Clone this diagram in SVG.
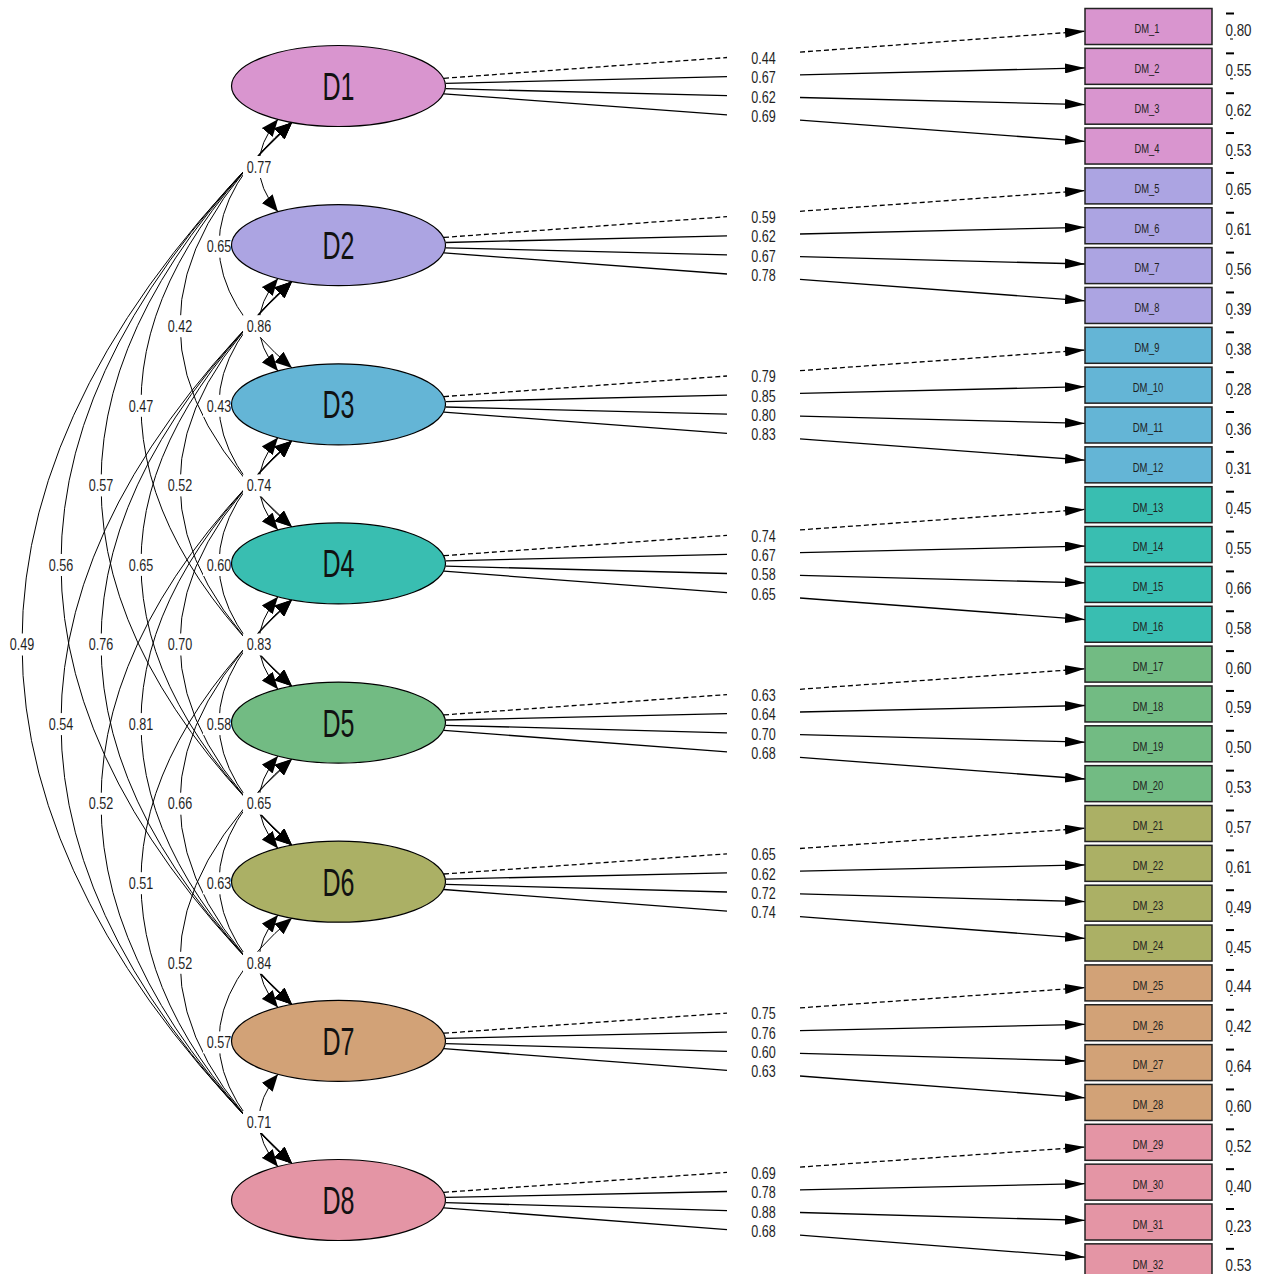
<svg xmlns="http://www.w3.org/2000/svg" width="1262" height="1274" viewBox="0 0 1262 1274">
<style>
.cov{fill:none;stroke:#000;stroke-width:1;marker-start:url(#ca);marker-end:url(#ca)}
.ld{fill:none;stroke:#000;stroke-width:1.3}
.arr{marker-end:url(#la)}
.dash{stroke-dasharray:5 3}
.bg{fill:#fff}
.lab{font-family:"Liberation Sans",Arial,sans-serif;font-size:16px;fill:#1f1f1f;text-anchor:middle}
.lat ellipse{stroke:#000;stroke-width:1.2}
.lat text{font-family:"Liberation Sans",Arial,sans-serif;font-size:38px;fill:#111;text-anchor:middle}
.obs rect{stroke:#222;stroke-width:1.5}
.obs text{font-family:"Liberation Sans",Arial,sans-serif;font-size:13px;fill:#1f1f1f;text-anchor:middle}
.obs text.res{font-size:16.5px}
.obs path{stroke:#000;fill:none}
.f1{fill:#D995CF}.f2{fill:#ACA4E2}.f3{fill:#64B5D6}.f4{fill:#39BEB1}.f5{fill:#72BB83}.f6{fill:#ABB065}.f7{fill:#D2A277}.f8{fill:#E495A5}
</style>
<defs>
<marker id="ca" markerUnits="userSpaceOnUse" markerWidth="17" markerHeight="14" refX="17" refY="7" orient="auto-start-reverse"><path d="M0,0 L17,7 L0,14 z" fill="#000"/></marker>
<marker id="la" markerUnits="userSpaceOnUse" markerWidth="20" markerHeight="10" refX="20" refY="5" orient="auto"><path d="M0,0 L20,5 L0,10 z" fill="#000"/></marker>
</defs>
<rect width="1262" height="1274" fill="#fff"/>
<g id="connectors">
<g id="covariances">
<path class="cov" d="M278,119.3 Q240,165.55 278,211.8"/>
<path class="cov" d="M278,278.4 Q240,324.7 278,371"/>
<path class="cov" d="M278,437.6 Q240,483.85 278,530.1"/>
<path class="cov" d="M278,596.7 Q240,643 278,689.3"/>
<path class="cov" d="M278,755.9 Q240,802.15 278,848.4"/>
<path class="cov" d="M278,915 Q240,961.3 278,1007.6"/>
<path class="cov" d="M278,1074.2 Q240,1120.45 278,1166.7"/>
<path class="cov" d="M292,122.4 Q146,245.15 292,367.9"/>
<path class="cov" d="M292,281.5 Q146,404.25 292,527"/>
<path class="cov" d="M292,440.7 Q146,563.45 292,686.2"/>
<path class="cov" d="M292,599.8 Q146,722.55 292,845.3"/>
<path class="cov" d="M292,759 Q146,881.75 292,1004.5"/>
<path class="cov" d="M292,918.1 Q146,1040.85 292,1163.6"/>
<path class="cov" d="M292,122.4 Q68,324.7 292,527"/>
<path class="cov" d="M292,281.5 Q68,483.85 292,686.2"/>
<path class="cov" d="M292,440.7 Q68,643 292,845.3"/>
<path class="cov" d="M292,599.8 Q68,802.15 292,1004.5"/>
<path class="cov" d="M292,759 Q68,961.3 292,1163.6"/>
<path class="cov" d="M292,122.4 Q-10,404.3 292,686.2"/>
<path class="cov" d="M292,281.5 Q-10,563.4 292,845.3"/>
<path class="cov" d="M292,440.7 Q-10,722.6 292,1004.5"/>
<path class="cov" d="M292,599.8 Q-10,881.7 292,1163.6"/>
<path class="cov" d="M292,122.4 Q-90,483.85 292,845.3"/>
<path class="cov" d="M292,281.5 Q-90,643 292,1004.5"/>
<path class="cov" d="M292,440.7 Q-90,802.15 292,1163.6"/>
<path class="cov" d="M292,122.4 Q-170,563.45 292,1004.5"/>
<path class="cov" d="M292,281.5 Q-170,722.55 292,1163.6"/>
<path class="cov" d="M292,122.4 Q-248,643 292,1163.6"/>
</g>
<g id="cov-label-bg">
<rect class="bg" x="243" y="156" width="32" height="22"/>
<rect class="bg" x="243" y="315.2" width="32" height="22"/>
<rect class="bg" x="243" y="474.4" width="32" height="22"/>
<rect class="bg" x="243" y="633.5" width="32" height="22"/>
<rect class="bg" x="243" y="792.7" width="32" height="22"/>
<rect class="bg" x="243" y="951.8" width="32" height="22"/>
<rect class="bg" x="243" y="1111" width="32" height="22"/>
<rect class="bg" x="203" y="235.7" width="32" height="22"/>
<rect class="bg" x="203" y="394.8" width="32" height="22"/>
<rect class="bg" x="203" y="554" width="32" height="22"/>
<rect class="bg" x="203" y="713.1" width="32" height="22"/>
<rect class="bg" x="203" y="872.3" width="32" height="22"/>
<rect class="bg" x="203" y="1031.4" width="32" height="22"/>
<rect class="bg" x="164" y="315.2" width="32" height="22"/>
<rect class="bg" x="164" y="474.4" width="32" height="22"/>
<rect class="bg" x="164" y="633.5" width="32" height="22"/>
<rect class="bg" x="164" y="792.7" width="32" height="22"/>
<rect class="bg" x="164" y="951.8" width="32" height="22"/>
<rect class="bg" x="125" y="394.8" width="32" height="22"/>
<rect class="bg" x="125" y="553.9" width="32" height="22"/>
<rect class="bg" x="125" y="713.1" width="32" height="22"/>
<rect class="bg" x="125" y="872.2" width="32" height="22"/>
<rect class="bg" x="85" y="474.4" width="32" height="22"/>
<rect class="bg" x="85" y="633.5" width="32" height="22"/>
<rect class="bg" x="85" y="792.7" width="32" height="22"/>
<rect class="bg" x="45" y="554" width="32" height="22"/>
<rect class="bg" x="45" y="713.1" width="32" height="22"/>
<rect class="bg" x="6" y="633.5" width="32" height="22"/>
</g>
<g id="loadings">
<path class="ld dash" d="M444,78.3 L727,57.5"/><path class="ld dash arr" d="M800,52.1 L1085,31.2"/>
<path class="ld" d="M445.8,83.4 L727,76.6"/><path class="ld arr" d="M800,74.8 L1085,67.9"/>
<path class="ld" d="M445.8,88.7 L727,95.7"/><path class="ld arr" d="M800,97.5 L1085,104.6"/>
<path class="ld" d="M444,93.8 L727,114.8"/><path class="ld arr" d="M800,120.2 L1085,141.4"/>
<path class="ld dash" d="M444,237.4 L727,216.7"/><path class="ld dash arr" d="M800,211.3 L1085,190.6"/>
<path class="ld" d="M445.8,242.5 L727,235.8"/><path class="ld arr" d="M800,234 L1085,227.3"/>
<path class="ld" d="M445.8,247.8 L727,254.9"/><path class="ld arr" d="M800,256.7 L1085,264"/>
<path class="ld" d="M444,252.9 L727,274"/><path class="ld arr" d="M800,279.4 L1085,300.8"/>
<path class="ld dash" d="M444,396.6 L727,376"/><path class="ld dash arr" d="M800,370.7 L1085,350"/>
<path class="ld" d="M445.8,401.7 L727,395.1"/><path class="ld arr" d="M800,393.4 L1085,386.7"/>
<path class="ld" d="M445.8,407 L727,414.2"/><path class="ld arr" d="M800,416.1 L1085,423.4"/>
<path class="ld" d="M444,412.1 L727,433.3"/><path class="ld arr" d="M800,438.8 L1085,460.2"/>
<path class="ld dash" d="M444,555.7 L727,535.3"/><path class="ld dash arr" d="M800,529.9 L1085,509.4"/>
<path class="ld" d="M445.8,560.8 L727,554.4"/><path class="ld arr" d="M800,552.6 L1085,546.1"/>
<path class="ld" d="M445.8,566.1 L727,573.5"/><path class="ld arr" d="M800,575.3 L1085,582.8"/>
<path class="ld" d="M444,571.2 L727,592.6"/><path class="ld arr" d="M800,598 L1085,619.6"/>
<path class="ld dash" d="M444,714.9 L727,694.6"/><path class="ld dash arr" d="M800,689.3 L1085,668.8"/>
<path class="ld" d="M445.8,720 L727,713.7"/><path class="ld arr" d="M800,712 L1085,705.5"/>
<path class="ld" d="M445.8,725.3 L727,732.8"/><path class="ld arr" d="M800,734.7 L1085,742.2"/>
<path class="ld" d="M444,730.4 L727,751.9"/><path class="ld arr" d="M800,757.4 L1085,779"/>
<path class="ld dash" d="M444,874 L727,853.8"/><path class="ld dash arr" d="M800,848.5 L1085,828.2"/>
<path class="ld" d="M445.8,879.1 L727,872.9"/><path class="ld arr" d="M800,871.2 L1085,864.9"/>
<path class="ld" d="M445.8,884.4 L727,892"/><path class="ld arr" d="M800,893.9 L1085,901.6"/>
<path class="ld" d="M444,889.5 L727,911.1"/><path class="ld arr" d="M800,916.6 L1085,938.4"/>
<path class="ld dash" d="M444,1033.2 L727,1013.1"/><path class="ld dash arr" d="M800,1007.9 L1085,987.6"/>
<path class="ld" d="M445.8,1038.3 L727,1032.2"/><path class="ld arr" d="M800,1030.6 L1085,1024.3"/>
<path class="ld" d="M445.8,1043.6 L727,1051.3"/><path class="ld arr" d="M800,1053.3 L1085,1061"/>
<path class="ld" d="M444,1048.7 L727,1070.4"/><path class="ld arr" d="M800,1076 L1085,1097.8"/>
<path class="ld dash" d="M444,1192.3 L727,1172.4"/><path class="ld dash arr" d="M800,1167.1 L1085,1147"/>
<path class="ld" d="M445.8,1197.4 L727,1191.5"/><path class="ld arr" d="M800,1189.8 L1085,1183.7"/>
<path class="ld" d="M445.8,1202.7 L727,1210.6"/><path class="ld arr" d="M800,1212.5 L1085,1220.4"/>
<path class="ld" d="M444,1207.8 L727,1229.7"/><path class="ld arr" d="M800,1235.2 L1085,1257.2"/>
</g>
</g>
<g id="D1" class="lat"><ellipse class="f1" cx="338.5" cy="86" rx="107" ry="40.5"/><text x="338.5" y="100" textLength="32" lengthAdjust="spacingAndGlyphs">D1</text></g>
<g id="D2" class="lat"><ellipse class="f2" cx="338.5" cy="245.1" rx="107" ry="40.5"/><text x="338.5" y="259.1" textLength="32" lengthAdjust="spacingAndGlyphs">D2</text></g>
<g id="D3" class="lat"><ellipse class="f3" cx="338.5" cy="404.3" rx="107" ry="40.5"/><text x="338.5" y="418.3" textLength="32" lengthAdjust="spacingAndGlyphs">D3</text></g>
<g id="D4" class="lat"><ellipse class="f4" cx="338.5" cy="563.4" rx="107" ry="40.5"/><text x="338.5" y="577.4" textLength="32" lengthAdjust="spacingAndGlyphs">D4</text></g>
<g id="D5" class="lat"><ellipse class="f5" cx="338.5" cy="722.6" rx="107" ry="40.5"/><text x="338.5" y="736.6" textLength="32" lengthAdjust="spacingAndGlyphs">D5</text></g>
<g id="D6" class="lat"><ellipse class="f6" cx="338.5" cy="881.7" rx="107" ry="40.5"/><text x="338.5" y="895.7" textLength="32" lengthAdjust="spacingAndGlyphs">D6</text></g>
<g id="D7" class="lat"><ellipse class="f7" cx="338.5" cy="1040.9" rx="107" ry="40.5"/><text x="338.5" y="1054.9" textLength="32" lengthAdjust="spacingAndGlyphs">D7</text></g>
<g id="D8" class="lat"><ellipse class="f8" cx="338.5" cy="1200" rx="107" ry="40.5"/><text x="338.5" y="1214" textLength="32" lengthAdjust="spacingAndGlyphs">D8</text></g>
<g id="cov-labels" class="lab">
<text class="lab" x="259" y="172.8" textLength="24.5" lengthAdjust="spacingAndGlyphs">0.77</text>
<text class="lab" x="259" y="331.9" textLength="24.5" lengthAdjust="spacingAndGlyphs">0.86</text>
<text class="lab" x="259" y="491.1" textLength="24.5" lengthAdjust="spacingAndGlyphs">0.74</text>
<text class="lab" x="259" y="650.2" textLength="24.5" lengthAdjust="spacingAndGlyphs">0.83</text>
<text class="lab" x="259" y="809.4" textLength="24.5" lengthAdjust="spacingAndGlyphs">0.65</text>
<text class="lab" x="259" y="968.5" textLength="24.5" lengthAdjust="spacingAndGlyphs">0.84</text>
<text class="lab" x="259" y="1127.7" textLength="24.5" lengthAdjust="spacingAndGlyphs">0.71</text>
<text class="lab" x="219" y="252.4" textLength="24.5" lengthAdjust="spacingAndGlyphs">0.65</text>
<text class="lab" x="219" y="411.5" textLength="24.5" lengthAdjust="spacingAndGlyphs">0.43</text>
<text class="lab" x="219" y="570.7" textLength="24.5" lengthAdjust="spacingAndGlyphs">0.60</text>
<text class="lab" x="219" y="729.8" textLength="24.5" lengthAdjust="spacingAndGlyphs">0.58</text>
<text class="lab" x="219" y="889" textLength="24.5" lengthAdjust="spacingAndGlyphs">0.63</text>
<text class="lab" x="219" y="1048.1" textLength="24.5" lengthAdjust="spacingAndGlyphs">0.57</text>
<text class="lab" x="180" y="331.9" textLength="24.5" lengthAdjust="spacingAndGlyphs">0.42</text>
<text class="lab" x="180" y="491.1" textLength="24.5" lengthAdjust="spacingAndGlyphs">0.52</text>
<text class="lab" x="180" y="650.2" textLength="24.5" lengthAdjust="spacingAndGlyphs">0.70</text>
<text class="lab" x="180" y="809.4" textLength="24.5" lengthAdjust="spacingAndGlyphs">0.66</text>
<text class="lab" x="180" y="968.5" textLength="24.5" lengthAdjust="spacingAndGlyphs">0.52</text>
<text class="lab" x="141" y="411.5" textLength="24.5" lengthAdjust="spacingAndGlyphs">0.47</text>
<text class="lab" x="141" y="570.6" textLength="24.5" lengthAdjust="spacingAndGlyphs">0.65</text>
<text class="lab" x="141" y="729.8" textLength="24.5" lengthAdjust="spacingAndGlyphs">0.81</text>
<text class="lab" x="141" y="888.9" textLength="24.5" lengthAdjust="spacingAndGlyphs">0.51</text>
<text class="lab" x="101" y="491.1" textLength="24.5" lengthAdjust="spacingAndGlyphs">0.57</text>
<text class="lab" x="101" y="650.2" textLength="24.5" lengthAdjust="spacingAndGlyphs">0.76</text>
<text class="lab" x="101" y="809.4" textLength="24.5" lengthAdjust="spacingAndGlyphs">0.52</text>
<text class="lab" x="61" y="570.7" textLength="24.5" lengthAdjust="spacingAndGlyphs">0.56</text>
<text class="lab" x="61" y="729.8" textLength="24.5" lengthAdjust="spacingAndGlyphs">0.54</text>
<text class="lab" x="22" y="650.2" textLength="24.5" lengthAdjust="spacingAndGlyphs">0.49</text>
</g>
<g id="loading-labels">
<text class="lab" x="763.5" y="63.8" textLength="24.5" lengthAdjust="spacingAndGlyphs">0.44</text>
<text class="lab" x="763.5" y="83.2" textLength="24.5" lengthAdjust="spacingAndGlyphs">0.67</text>
<text class="lab" x="763.5" y="102.6" textLength="24.5" lengthAdjust="spacingAndGlyphs">0.62</text>
<text class="lab" x="763.5" y="121.8" textLength="24.5" lengthAdjust="spacingAndGlyphs">0.69</text>
<text class="lab" x="763.5" y="223" textLength="24.5" lengthAdjust="spacingAndGlyphs">0.59</text>
<text class="lab" x="763.5" y="242.4" textLength="24.5" lengthAdjust="spacingAndGlyphs">0.62</text>
<text class="lab" x="763.5" y="261.8" textLength="24.5" lengthAdjust="spacingAndGlyphs">0.67</text>
<text class="lab" x="763.5" y="281" textLength="24.5" lengthAdjust="spacingAndGlyphs">0.78</text>
<text class="lab" x="763.5" y="382.3" textLength="24.5" lengthAdjust="spacingAndGlyphs">0.79</text>
<text class="lab" x="763.5" y="401.7" textLength="24.5" lengthAdjust="spacingAndGlyphs">0.85</text>
<text class="lab" x="763.5" y="421.1" textLength="24.5" lengthAdjust="spacingAndGlyphs">0.80</text>
<text class="lab" x="763.5" y="440.3" textLength="24.5" lengthAdjust="spacingAndGlyphs">0.83</text>
<text class="lab" x="763.5" y="541.6" textLength="24.5" lengthAdjust="spacingAndGlyphs">0.74</text>
<text class="lab" x="763.5" y="561" textLength="24.5" lengthAdjust="spacingAndGlyphs">0.67</text>
<text class="lab" x="763.5" y="580.4" textLength="24.5" lengthAdjust="spacingAndGlyphs">0.58</text>
<text class="lab" x="763.5" y="599.6" textLength="24.5" lengthAdjust="spacingAndGlyphs">0.65</text>
<text class="lab" x="763.5" y="700.9" textLength="24.5" lengthAdjust="spacingAndGlyphs">0.63</text>
<text class="lab" x="763.5" y="720.3" textLength="24.5" lengthAdjust="spacingAndGlyphs">0.64</text>
<text class="lab" x="763.5" y="739.7" textLength="24.5" lengthAdjust="spacingAndGlyphs">0.70</text>
<text class="lab" x="763.5" y="758.9" textLength="24.5" lengthAdjust="spacingAndGlyphs">0.68</text>
<text class="lab" x="763.5" y="860.1" textLength="24.5" lengthAdjust="spacingAndGlyphs">0.65</text>
<text class="lab" x="763.5" y="879.5" textLength="24.5" lengthAdjust="spacingAndGlyphs">0.62</text>
<text class="lab" x="763.5" y="898.9" textLength="24.5" lengthAdjust="spacingAndGlyphs">0.72</text>
<text class="lab" x="763.5" y="918.1" textLength="24.5" lengthAdjust="spacingAndGlyphs">0.74</text>
<text class="lab" x="763.5" y="1019.4" textLength="24.5" lengthAdjust="spacingAndGlyphs">0.75</text>
<text class="lab" x="763.5" y="1038.8" textLength="24.5" lengthAdjust="spacingAndGlyphs">0.76</text>
<text class="lab" x="763.5" y="1058.2" textLength="24.5" lengthAdjust="spacingAndGlyphs">0.60</text>
<text class="lab" x="763.5" y="1077.4" textLength="24.5" lengthAdjust="spacingAndGlyphs">0.63</text>
<text class="lab" x="763.5" y="1178.7" textLength="24.5" lengthAdjust="spacingAndGlyphs">0.69</text>
<text class="lab" x="763.5" y="1198.1" textLength="24.5" lengthAdjust="spacingAndGlyphs">0.78</text>
<text class="lab" x="763.5" y="1217.5" textLength="24.5" lengthAdjust="spacingAndGlyphs">0.88</text>
<text class="lab" x="763.5" y="1236.7" textLength="24.5" lengthAdjust="spacingAndGlyphs">0.68</text>
</g>
<g id="DM_1" class="obs"><rect class="f1" x="1085" y="8.5" width="127" height="36"/><text x="1147" y="33.3" textLength="25" lengthAdjust="spacingAndGlyphs">DM_1</text><path d="M1226,13.5h8" stroke-width="2"/><path d="M1230,39h3"/><text class="res" x="1238.5" y="36" textLength="26" lengthAdjust="spacingAndGlyphs">0.80</text></g>
<g id="DM_2" class="obs"><rect class="f1" x="1085" y="48.35" width="127" height="36"/><text x="1147" y="73.15" textLength="25" lengthAdjust="spacingAndGlyphs">DM_2</text><path d="M1226,53.35h8" stroke-width="2"/><path d="M1230,78.85h3"/><text class="res" x="1238.5" y="75.85" textLength="26" lengthAdjust="spacingAndGlyphs">0.55</text></g>
<g id="DM_3" class="obs"><rect class="f1" x="1085" y="88.2" width="127" height="36"/><text x="1147" y="113" textLength="25" lengthAdjust="spacingAndGlyphs">DM_3</text><path d="M1226,93.2h8" stroke-width="2"/><path d="M1230,118.7h3"/><text class="res" x="1238.5" y="115.7" textLength="26" lengthAdjust="spacingAndGlyphs">0.62</text></g>
<g id="DM_4" class="obs"><rect class="f1" x="1085" y="128.05" width="127" height="36"/><text x="1147" y="152.85" textLength="25" lengthAdjust="spacingAndGlyphs">DM_4</text><path d="M1226,133.05h8" stroke-width="2"/><path d="M1230,158.55h3"/><text class="res" x="1238.5" y="155.55" textLength="26" lengthAdjust="spacingAndGlyphs">0.53</text></g>
<g id="DM_5" class="obs"><rect class="f2" x="1085" y="167.9" width="127" height="36"/><text x="1147" y="192.7" textLength="25" lengthAdjust="spacingAndGlyphs">DM_5</text><path d="M1226,172.9h8" stroke-width="2"/><path d="M1230,198.4h3"/><text class="res" x="1238.5" y="195.4" textLength="26" lengthAdjust="spacingAndGlyphs">0.65</text></g>
<g id="DM_6" class="obs"><rect class="f2" x="1085" y="207.75" width="127" height="36"/><text x="1147" y="232.55" textLength="25" lengthAdjust="spacingAndGlyphs">DM_6</text><path d="M1226,212.75h8" stroke-width="2"/><path d="M1230,238.25h3"/><text class="res" x="1238.5" y="235.25" textLength="26" lengthAdjust="spacingAndGlyphs">0.61</text></g>
<g id="DM_7" class="obs"><rect class="f2" x="1085" y="247.6" width="127" height="36"/><text x="1147" y="272.4" textLength="25" lengthAdjust="spacingAndGlyphs">DM_7</text><path d="M1226,252.6h8" stroke-width="2"/><path d="M1230,278.1h3"/><text class="res" x="1238.5" y="275.1" textLength="26" lengthAdjust="spacingAndGlyphs">0.56</text></g>
<g id="DM_8" class="obs"><rect class="f2" x="1085" y="287.45" width="127" height="36"/><text x="1147" y="312.25" textLength="25" lengthAdjust="spacingAndGlyphs">DM_8</text><path d="M1226,292.45h8" stroke-width="2"/><path d="M1230,317.95h3"/><text class="res" x="1238.5" y="314.95" textLength="26" lengthAdjust="spacingAndGlyphs">0.39</text></g>
<g id="DM_9" class="obs"><rect class="f3" x="1085" y="327.3" width="127" height="36"/><text x="1147" y="352.1" textLength="25" lengthAdjust="spacingAndGlyphs">DM_9</text><path d="M1226,332.3h8" stroke-width="2"/><path d="M1230,357.8h3"/><text class="res" x="1238.5" y="354.8" textLength="26" lengthAdjust="spacingAndGlyphs">0.38</text></g>
<g id="DM_10" class="obs"><rect class="f3" x="1085" y="367.15" width="127" height="36"/><text x="1148" y="391.95" textLength="30.5" lengthAdjust="spacingAndGlyphs">DM_10</text><path d="M1226,372.15h8" stroke-width="2"/><path d="M1230,397.65h3"/><text class="res" x="1238.5" y="394.65" textLength="26" lengthAdjust="spacingAndGlyphs">0.28</text></g>
<g id="DM_11" class="obs"><rect class="f3" x="1085" y="407" width="127" height="36"/><text x="1148" y="431.8" textLength="30.5" lengthAdjust="spacingAndGlyphs">DM_11</text><path d="M1226,412h8" stroke-width="2"/><path d="M1230,437.5h3"/><text class="res" x="1238.5" y="434.5" textLength="26" lengthAdjust="spacingAndGlyphs">0.36</text></g>
<g id="DM_12" class="obs"><rect class="f3" x="1085" y="446.85" width="127" height="36"/><text x="1148" y="471.65" textLength="30.5" lengthAdjust="spacingAndGlyphs">DM_12</text><path d="M1226,451.85h8" stroke-width="2"/><path d="M1230,477.35h3"/><text class="res" x="1238.5" y="474.35" textLength="26" lengthAdjust="spacingAndGlyphs">0.31</text></g>
<g id="DM_13" class="obs"><rect class="f4" x="1085" y="486.7" width="127" height="36"/><text x="1148" y="511.5" textLength="30.5" lengthAdjust="spacingAndGlyphs">DM_13</text><path d="M1226,491.7h8" stroke-width="2"/><path d="M1230,517.2h3"/><text class="res" x="1238.5" y="514.2" textLength="26" lengthAdjust="spacingAndGlyphs">0.45</text></g>
<g id="DM_14" class="obs"><rect class="f4" x="1085" y="526.55" width="127" height="36"/><text x="1148" y="551.35" textLength="30.5" lengthAdjust="spacingAndGlyphs">DM_14</text><path d="M1226,531.55h8" stroke-width="2"/><path d="M1230,557.05h3"/><text class="res" x="1238.5" y="554.05" textLength="26" lengthAdjust="spacingAndGlyphs">0.55</text></g>
<g id="DM_15" class="obs"><rect class="f4" x="1085" y="566.4" width="127" height="36"/><text x="1148" y="591.2" textLength="30.5" lengthAdjust="spacingAndGlyphs">DM_15</text><path d="M1226,571.4h8" stroke-width="2"/><path d="M1230,596.9h3"/><text class="res" x="1238.5" y="593.9" textLength="26" lengthAdjust="spacingAndGlyphs">0.66</text></g>
<g id="DM_16" class="obs"><rect class="f4" x="1085" y="606.25" width="127" height="36"/><text x="1148" y="631.05" textLength="30.5" lengthAdjust="spacingAndGlyphs">DM_16</text><path d="M1226,611.25h8" stroke-width="2"/><path d="M1230,636.75h3"/><text class="res" x="1238.5" y="633.75" textLength="26" lengthAdjust="spacingAndGlyphs">0.58</text></g>
<g id="DM_17" class="obs"><rect class="f5" x="1085" y="646.1" width="127" height="36"/><text x="1148" y="670.9" textLength="30.5" lengthAdjust="spacingAndGlyphs">DM_17</text><path d="M1226,651.1h8" stroke-width="2"/><path d="M1230,676.6h3"/><text class="res" x="1238.5" y="673.6" textLength="26" lengthAdjust="spacingAndGlyphs">0.60</text></g>
<g id="DM_18" class="obs"><rect class="f5" x="1085" y="685.95" width="127" height="36"/><text x="1148" y="710.75" textLength="30.5" lengthAdjust="spacingAndGlyphs">DM_18</text><path d="M1226,690.95h8" stroke-width="2"/><path d="M1230,716.45h3"/><text class="res" x="1238.5" y="713.45" textLength="26" lengthAdjust="spacingAndGlyphs">0.59</text></g>
<g id="DM_19" class="obs"><rect class="f5" x="1085" y="725.8" width="127" height="36"/><text x="1148" y="750.6" textLength="30.5" lengthAdjust="spacingAndGlyphs">DM_19</text><path d="M1226,730.8h8" stroke-width="2"/><path d="M1230,756.3h3"/><text class="res" x="1238.5" y="753.3" textLength="26" lengthAdjust="spacingAndGlyphs">0.50</text></g>
<g id="DM_20" class="obs"><rect class="f5" x="1085" y="765.65" width="127" height="36"/><text x="1148" y="790.45" textLength="30.5" lengthAdjust="spacingAndGlyphs">DM_20</text><path d="M1226,770.65h8" stroke-width="2"/><path d="M1230,796.15h3"/><text class="res" x="1238.5" y="793.15" textLength="26" lengthAdjust="spacingAndGlyphs">0.53</text></g>
<g id="DM_21" class="obs"><rect class="f6" x="1085" y="805.5" width="127" height="36"/><text x="1148" y="830.3" textLength="30.5" lengthAdjust="spacingAndGlyphs">DM_21</text><path d="M1226,810.5h8" stroke-width="2"/><path d="M1230,836h3"/><text class="res" x="1238.5" y="833" textLength="26" lengthAdjust="spacingAndGlyphs">0.57</text></g>
<g id="DM_22" class="obs"><rect class="f6" x="1085" y="845.35" width="127" height="36"/><text x="1148" y="870.15" textLength="30.5" lengthAdjust="spacingAndGlyphs">DM_22</text><path d="M1226,850.35h8" stroke-width="2"/><path d="M1230,875.85h3"/><text class="res" x="1238.5" y="872.85" textLength="26" lengthAdjust="spacingAndGlyphs">0.61</text></g>
<g id="DM_23" class="obs"><rect class="f6" x="1085" y="885.2" width="127" height="36"/><text x="1148" y="910" textLength="30.5" lengthAdjust="spacingAndGlyphs">DM_23</text><path d="M1226,890.2h8" stroke-width="2"/><path d="M1230,915.7h3"/><text class="res" x="1238.5" y="912.7" textLength="26" lengthAdjust="spacingAndGlyphs">0.49</text></g>
<g id="DM_24" class="obs"><rect class="f6" x="1085" y="925.05" width="127" height="36"/><text x="1148" y="949.85" textLength="30.5" lengthAdjust="spacingAndGlyphs">DM_24</text><path d="M1226,930.05h8" stroke-width="2"/><path d="M1230,955.55h3"/><text class="res" x="1238.5" y="952.55" textLength="26" lengthAdjust="spacingAndGlyphs">0.45</text></g>
<g id="DM_25" class="obs"><rect class="f7" x="1085" y="964.9" width="127" height="36"/><text x="1148" y="989.7" textLength="30.5" lengthAdjust="spacingAndGlyphs">DM_25</text><path d="M1226,969.9h8" stroke-width="2"/><path d="M1230,995.4h3"/><text class="res" x="1238.5" y="992.4" textLength="26" lengthAdjust="spacingAndGlyphs">0.44</text></g>
<g id="DM_26" class="obs"><rect class="f7" x="1085" y="1004.75" width="127" height="36"/><text x="1148" y="1029.55" textLength="30.5" lengthAdjust="spacingAndGlyphs">DM_26</text><path d="M1226,1009.75h8" stroke-width="2"/><path d="M1230,1035.25h3"/><text class="res" x="1238.5" y="1032.25" textLength="26" lengthAdjust="spacingAndGlyphs">0.42</text></g>
<g id="DM_27" class="obs"><rect class="f7" x="1085" y="1044.6" width="127" height="36"/><text x="1148" y="1069.4" textLength="30.5" lengthAdjust="spacingAndGlyphs">DM_27</text><path d="M1226,1049.6h8" stroke-width="2"/><path d="M1230,1075.1h3"/><text class="res" x="1238.5" y="1072.1" textLength="26" lengthAdjust="spacingAndGlyphs">0.64</text></g>
<g id="DM_28" class="obs"><rect class="f7" x="1085" y="1084.45" width="127" height="36"/><text x="1148" y="1109.25" textLength="30.5" lengthAdjust="spacingAndGlyphs">DM_28</text><path d="M1226,1089.45h8" stroke-width="2"/><path d="M1230,1114.95h3"/><text class="res" x="1238.5" y="1111.95" textLength="26" lengthAdjust="spacingAndGlyphs">0.60</text></g>
<g id="DM_29" class="obs"><rect class="f8" x="1085" y="1124.3" width="127" height="36"/><text x="1148" y="1149.1" textLength="30.5" lengthAdjust="spacingAndGlyphs">DM_29</text><path d="M1226,1129.3h8" stroke-width="2"/><path d="M1230,1154.8h3"/><text class="res" x="1238.5" y="1151.8" textLength="26" lengthAdjust="spacingAndGlyphs">0.52</text></g>
<g id="DM_30" class="obs"><rect class="f8" x="1085" y="1164.15" width="127" height="36"/><text x="1148" y="1188.95" textLength="30.5" lengthAdjust="spacingAndGlyphs">DM_30</text><path d="M1226,1169.15h8" stroke-width="2"/><path d="M1230,1194.65h3"/><text class="res" x="1238.5" y="1191.65" textLength="26" lengthAdjust="spacingAndGlyphs">0.40</text></g>
<g id="DM_31" class="obs"><rect class="f8" x="1085" y="1204" width="127" height="36"/><text x="1148" y="1228.8" textLength="30.5" lengthAdjust="spacingAndGlyphs">DM_31</text><path d="M1226,1209h8" stroke-width="2"/><path d="M1230,1234.5h3"/><text class="res" x="1238.5" y="1231.5" textLength="26" lengthAdjust="spacingAndGlyphs">0.23</text></g>
<g id="DM_32" class="obs"><rect class="f8" x="1085" y="1243.85" width="127" height="36"/><text x="1148" y="1268.65" textLength="30.5" lengthAdjust="spacingAndGlyphs">DM_32</text><path d="M1226,1248.85h8" stroke-width="2"/><text class="res" x="1238.5" y="1271.35" textLength="26" lengthAdjust="spacingAndGlyphs">0.53</text></g>
</svg>
